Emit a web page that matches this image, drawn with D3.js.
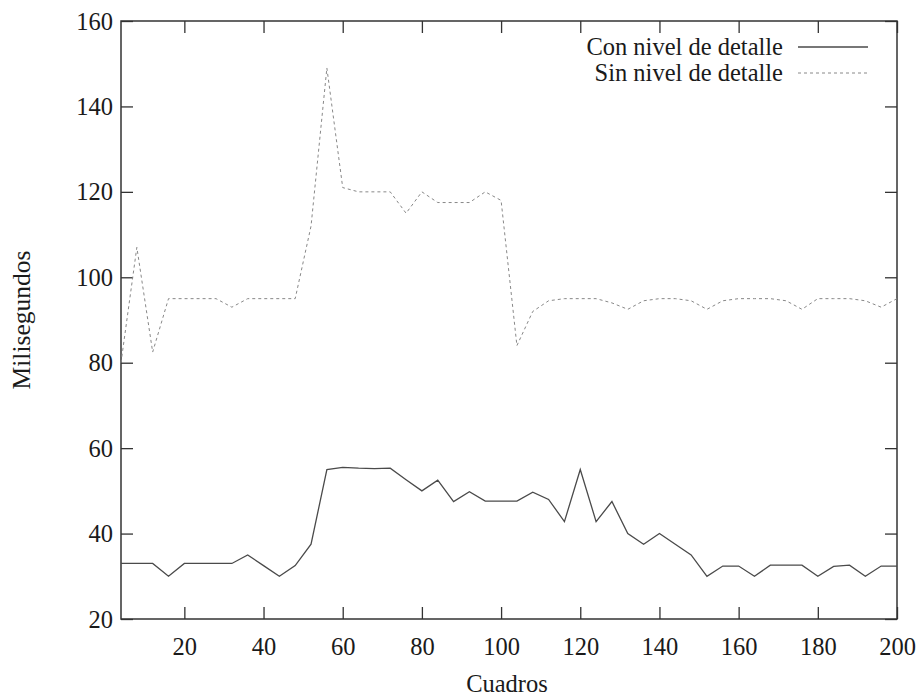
<!DOCTYPE html>
<html>
<head>
<meta charset="utf-8">
<script src="https://cdn.jsdelivr.net/npm/d3@7"></script>
<style>
  body { margin: 0; background: #fff; }
  svg text { font-family: "Liberation Serif", "DejaVu Serif", serif; fill: #1a1a1a; }
</style>
</head>
<body>
<div id="chart"></div>
<script>
// Frames (Cuadros), sampled every 4
const frames = d3.range(4, 201, 4);

// Con nivel de detalle (ms)
const conDetalle = [
  33, 33, 33, 30, 33, 33, 33, 33, 35, 32.5,
  30, 32.5, 37.5, 55, 55.5, 55.3, 55.2, 55.3, 52.6, 50,
  52.5, 47.5, 49.8, 47.6, 47.6, 47.6, 49.7, 48, 42.8, 55,
  42.8, 47.5, 40, 37.5, 40, 37.5, 35, 30, 32.4, 32.4,
  30, 32.6, 32.6, 32.6, 30, 32.3, 32.6, 30, 32.4, 32.4
];

// Sin nivel de detalle (ms)
const sinDetalle = [
  80, 107, 82.5, 95, 95, 95, 95, 93, 95, 95,
  95, 95, 112, 149, 121, 120, 120, 120, 115, 120,
  117.5, 117.5, 117.5, 120, 118, 84, 92, 94.5, 95, 95,
  95, 94, 92.5, 94.5, 95, 95, 94.5, 92.5, 94.5, 95,
  95, 95, 94.5, 92.5, 95, 95, 95, 94.5, 93, 95
];

const xTicks = [20, 40, 60, 80, 100, 120, 140, 160, 180, 200];
const yTicks = [20, 40, 60, 80, 100, 120, 140, 160];
const seriesNames = ["Con nivel de detalle", "Sin nivel de detalle"];

const width = 922, height = 697;
const margin = { top: 21, right: 25, bottom: 78, left: 121 };
const w = width - margin.left - margin.right;
const h = height - margin.top - margin.bottom;

const svg = d3.select("#chart").append("svg")
  .attr("width", width)
  .attr("height", height);

const g = svg.append("g")
  .attr("transform", "translate(" + margin.left + "," + margin.top + ")");

const x = d3.scaleLinear().domain([4, 200]).range([0, w]);
const y = d3.scaleLinear().domain([20, 160]).range([h, 0]);

// Axes with inward ticks (mirrored on top and right)
const fontSize = "24.5px";
g.append("g")
  .attr("transform", "translate(0," + h + ")")
  .call(d3.axisBottom(x).tickValues(xTicks).tickSize(-12).tickPadding(19))
  .call(a => a.selectAll("text").style("font-size", fontSize));
g.append("g")
  .call(d3.axisTop(x).tickValues(xTicks).tickSize(-12).tickFormat(""));
g.append("g")
  .call(d3.axisLeft(y).tickValues(yTicks).tickSize(-12).tickPadding(8))
  .call(a => a.selectAll("text").style("font-size", fontSize).attr("dy", "0.33em"));
g.append("g")
  .attr("transform", "translate(" + w + ",0)")
  .call(d3.axisRight(y).tickValues(yTicks).tickSize(-12).tickFormat(""));

g.selectAll(".domain").remove();
g.selectAll(".tick line").attr("stroke", "#333").attr("stroke-width", 1.3);

// Frame
g.append("rect")
  .attr("width", w)
  .attr("height", h)
  .attr("fill", "none")
  .attr("stroke", "#333")
  .attr("stroke-width", 1.5);

// Lines
const line = d3.line()
  .x(d => x(d[0]))
  .y(d => y(d[1]));

g.append("path")
  .datum(d3.zip(frames, conDetalle))
  .attr("fill", "none")
  .attr("stroke", "#4a4a4a")
  .attr("stroke-width", 1.3)
  .attr("d", line);

g.append("path")
  .datum(d3.zip(frames, sinDetalle))
  .attr("fill", "none")
  .attr("stroke", "#888")
  .attr("stroke-width", 1)
  .attr("stroke-dasharray", "3,3")
  .attr("d", line);

// Legend
const legend = svg.append("g");
const legendRows = [
  { name: seriesNames[0], y: 47, dash: null, color: "#4a4a4a", sw: 1.3 },
  { name: seriesNames[1], y: 73, dash: "3,3", color: "#888", sw: 1 }
];
legendRows.forEach(r => {
  legend.append("text")
    .attr("x", 783)
    .attr("y", r.y)
    .attr("dy", "0.33em")
    .attr("text-anchor", "end")
    .style("font-size", fontSize)
    .text(r.name);
  legend.append("line")
    .attr("x1", 798).attr("x2", 868)
    .attr("y1", r.y).attr("y2", r.y)
    .attr("stroke", r.color)
    .attr("stroke-width", r.sw)
    .attr("stroke-dasharray", r.dash);
});

// Axis titles
svg.append("text")
  .attr("x", margin.left + w / 2 - 2)
  .attr("y", 684)
  .attr("dy", "0.33em")
  .attr("text-anchor", "middle")
  .style("font-size", fontSize)
  .text("Cuadros");

svg.append("text")
  .attr("transform", "translate(22," + (margin.top + h / 2) + ") rotate(-90)")
  .attr("dy", "0.33em")
  .attr("text-anchor", "middle")
  .style("font-size", "25.5px")
  .text("Milisegundos");
</script>
</body>
</html>
